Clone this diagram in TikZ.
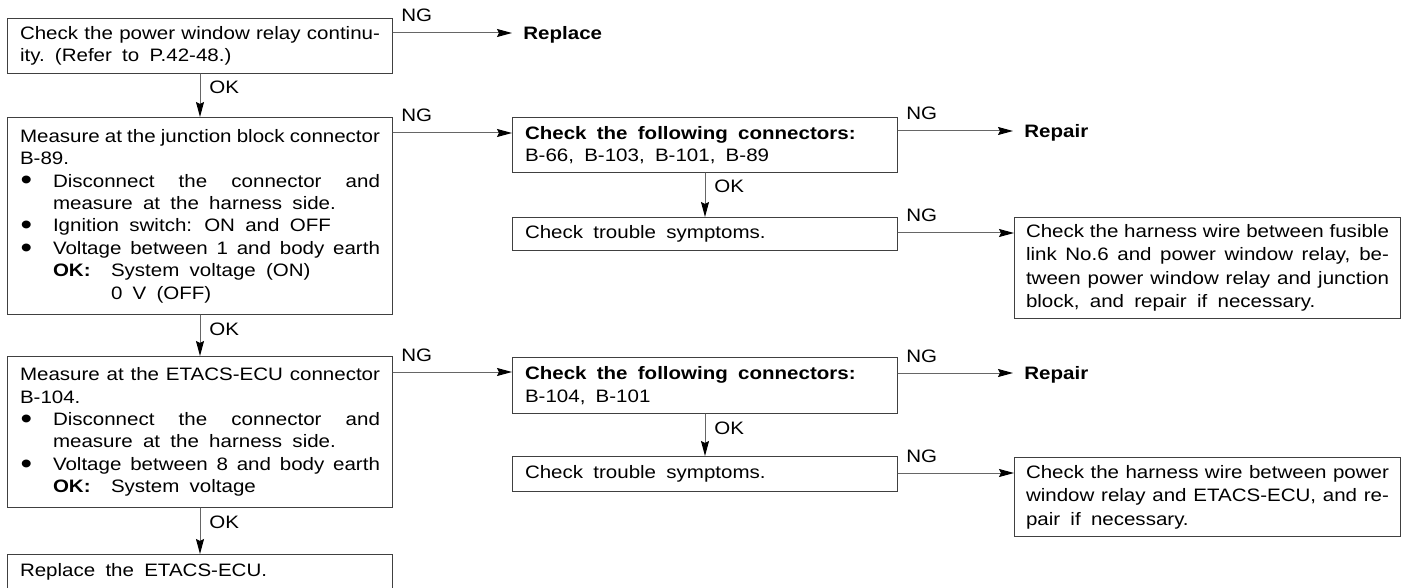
\documentclass[tikz,border=0pt]{standalone}
\usepackage{fontspec}
\setmainfont[FakeStretch=1.14, WordSpace={1.8,1.8,3}]{Liberation Sans}
\usetikzlibrary{arrows.meta}

\newcommand{\bodyfont}{\fontsize{9}{11.2}\selectfont}
% bullet with hanging text
\newcommand{\bul}{\par\hangindent=16.5pt\hangafter=1\noindent\makebox[16.5pt][l]{\hspace{0.3pt}\smash{\raisebox{-0.3ex}{\scalebox{1.6}{\textbullet}}}}}
\newcommand{\okline}[1]{\makebox[29pt][l]{\textbf{OK:}}#1}

\begin{document}
\begin{tikzpicture}[x=0.5pt,y=-0.5pt,line cap=round,
    box/.style={draw=black!75, line width=0.5pt, anchor=north west, text width=180pt,
        inner xsep=6.25pt, inner ysep=0pt, align=justify, font=\bodyfont},
    widebox/.style={box, text width=181.5pt, inner xsep=5.75pt, font=\fontsize{9}{11.7}\selectfont},
    ngline/.style={draw=black!60, line width=0.5pt, -{Stealth[length=7.5pt,width=4pt,inset=1pt,black]}},
    tag/.style={anchor=base west, inner sep=0pt, font=\bodyfont},
    result/.style={anchor=west, inner xsep=5.5pt, inner ysep=0pt, text height=6.5pt, text depth=0pt, font=\bodyfont\bfseries}]
    \useasboundingbox (0,0) rectangle (1407,588);

    % left column
    \node[box, minimum height=27.5pt] (chkrelay) at (7,18)
        {Check the power window relay continu-\linebreak ity.\ (Refer to P.42-48.)};
    \node[box, minimum height=98.5pt] (jbmeas) at (7,117)
        {Measure at the junction block connector\linebreak B-89.
        \bul Disconnect the connector and\linebreak measure at the harness side.
        \bul Ignition switch: ON and OFF
        \bul Voltage between 1 and body earth\linebreak \okline{System voltage (ON)}\\ \hspace*{29pt}0 V (OFF)\par};
    \node[box, minimum height=75.5pt] (ecumeas) at (7,356)
        {Measure at the ETACS-ECU connector\linebreak B-104.
        \bul Disconnect the connector and\linebreak measure at the harness side.
        \bul Voltage between 8 and body earth\linebreak \okline{System voltage}\par};
    \node[box, minimum height=17.5pt] (ecurepl) at (7,554) {Replace the ETACS-ECU.};

    % middle column
    \node[box, minimum height=27.5pt] (conn1) at (512,117)
        {\textbf{Check the following connectors:}\\ B-66, B-103, B-101, B-89};
    \node[box, minimum height=16.5pt] (symp1) at (512,217) {Check trouble symptoms.};
    \node[box, minimum height=28pt] (conn2) at (512,357)
        {\textbf{Check the following connectors:}\\ B-104, B-101};
    \node[box, minimum height=17.5pt] (symp2) at (512,456) {Check trouble symptoms.};

    % right column
    \node[widebox, minimum height=50.5pt] (wire1) at (1014,217)
        {Check the harness wire between fusible\linebreak link No.6 and power window relay, be-\linebreak tween power window relay and junction\linebreak block, and repair if necessary.};
    \node[widebox, minimum height=39.5pt] (wire2) at (1014,457)
        {Check the harness wire between power\linebreak window relay and ETACS-ECU, and re-\linebreak pair if necessary.};

    \node[result] (replace) at (512,33) {Replace};
    \node[result] (repair1) at (1013,131) {Repair};
    \node[result] (repair2) at (1013,373) {Repair};

    % NG branches
    \coordinate (ng1) at ([yshift=-7.5pt]chkrelay.north east);
    \coordinate (ng2) at ([yshift=-8pt]jbmeas.north east);
    \coordinate (ng3) at ([yshift=-7pt]conn1.north east);
    \coordinate (ng4) at ([yshift=-8pt]symp1.north east);
    \coordinate (ng5) at ([yshift=-8pt]ecumeas.north east);
    \coordinate (ng6) at ([yshift=-8pt]conn2.north east);
    \coordinate (ng7) at ([yshift=-8.5pt]symp2.north east);

    \draw[ngline] (ng1) -- (replace.west);
    \draw[ngline] (ng2) -- (ng2 -| conn1.west);
    \draw[ngline] (ng3) -- (repair1.west);
    \draw[ngline] (ng4) -- (ng4 -| wire1.west);
    \draw[ngline] (ng5) -- (ng5 -| conn2.west);
    \draw[ngline] (ng6) -- (repair2.west);
    \draw[ngline] (ng7) -- (ng7 -| wire2.west);
    \foreach \p in {ng1,ng2,ng3,ng4,ng5,ng6,ng7}
        \node[tag] at ([xshift=4pt,yshift=5.5pt]\p) {NG};

    % OK branches
    \draw[ngline] (chkrelay) -- (jbmeas);
    \draw[ngline] (jbmeas) -- (ecumeas);
    \draw[ngline] (ecumeas) -- (ecurepl);
    \draw[ngline] (conn1) -- (symp1);
    \draw[ngline] (conn2) -- (symp2);
    \foreach \b in {chkrelay,jbmeas,ecumeas,conn1,conn2}
        \node[tag] at ([xshift=4.5pt,yshift=-10pt]\b.south) {OK};
\end{tikzpicture}
\end{document}
